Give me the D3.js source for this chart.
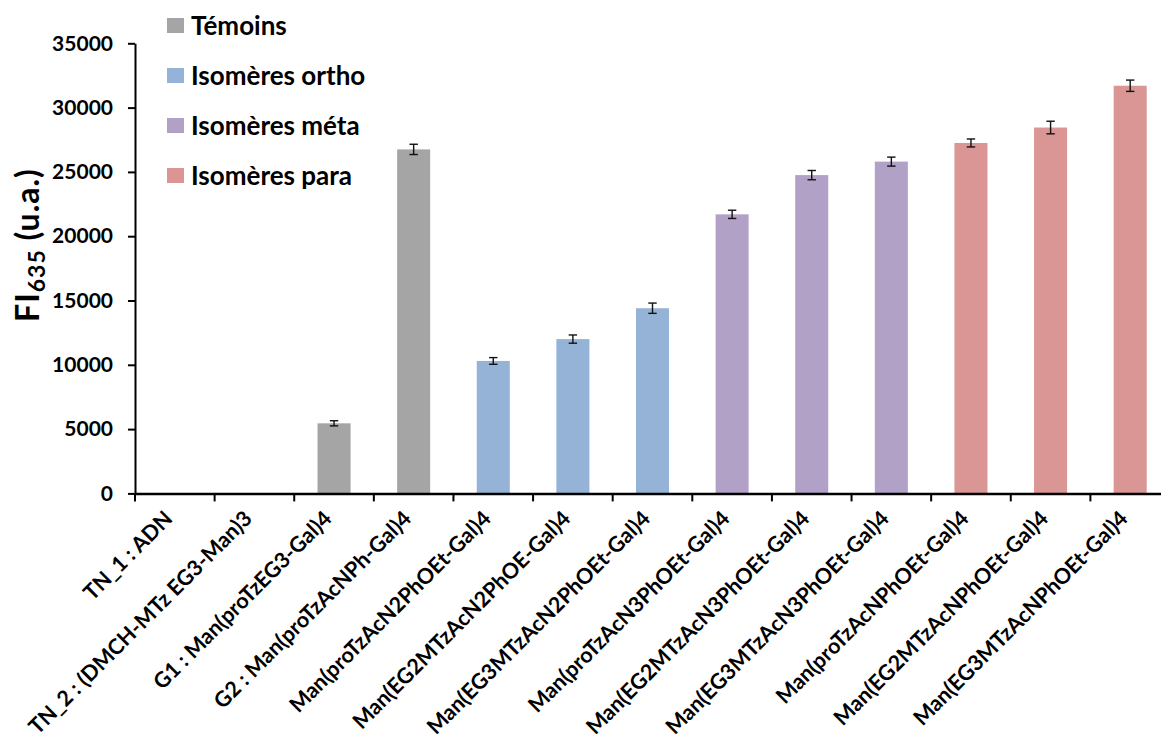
<!DOCTYPE html>
<html><head><meta charset="utf-8">
<script src="https://cdn.jsdelivr.net/npm/d3@7"></script>
<style>body{margin:0;background:#fff;} svg{display:block;}</style>
</head><body>
<svg id="c" width="1161" height="749"></svg>
<script>
const categories = ["TN_1 : ADN","TN_2 : (DMCH-MTz EG3-Man)3","G1 : Man(proTzEG3-Gal)4","G2 : Man(proTzAcNPh-Gal)4",
"Man(proTzAcN2PhOEt-Gal)4","Man(EG2MTzAcN2PhOE-Gal)4","Man(EG3MTzAcN2PhOEt-Gal)4",
"Man(proTzAcN3PhOEt-Gal)4","Man(EG2MTzAcN3PhOEt-Gal)4","Man(EG3MTzAcN3PhOEt-Gal)4",
"Man(proTzAcNPhOEt-Gal)4","Man(EG2MTzAcNPhOEt-Gal)4","Man(EG3MTzAcNPhOEt-Gal)4"];
const values = [0,0,5450,26750,10300,12000,14400,21700,24750,25800,27250,28450,31700];
const errors = [0,0,200,400,260,320,400,320,360,350,310,490,440];
const groups = ["Témoins","Témoins","Témoins","Témoins","Isomères ortho","Isomères ortho","Isomères ortho",
"Isomères méta","Isomères méta","Isomères méta","Isomères para","Isomères para","Isomères para"];
const legendLabels = ["Témoins","Isomères ortho","Isomères méta","Isomères para"];
const legendColors = ["#a5a5a5","#95b3d7","#b2a1c7","#d99694"];
const yTicks = [0,5000,10000,15000,20000,25000,30000,35000];

const svg = d3.select("#c");
const font = "Lato, 'Open Sans', sans-serif";
const x = d3.scaleBand().domain(categories).range([135,1170]).paddingInner(0.585).paddingOuter(0.2925);
const y = d3.scaleLinear().domain([0,35000]).range([493.4,43.3]);
const color = d3.scaleOrdinal().domain(legendLabels).range(legendColors);

// bars
svg.append("g").selectAll("rect").data(categories).join("rect")
  .attr("x", d=>x(d)).attr("width", x.bandwidth())
  .attr("y", (d,i)=>y(values[i])).attr("height",(d,i)=>y(0)-y(values[i]))
  .attr("fill",(d,i)=>color(groups[i]));

// error bars
const eb = svg.append("g").attr("stroke","#111").attr("stroke-width",1.4);
categories.forEach((c,i)=>{
  if(!values[i]) return;
  const cx = x(c)+x.bandwidth()/2;
  eb.append("line").attr("x1",cx).attr("x2",cx).attr("y1",y(values[i]+errors[i])).attr("y2",y(values[i]-errors[i]));
  eb.append("line").attr("x1",cx-4.2).attr("x2",cx+4.2).attr("y1",y(values[i]+errors[i])).attr("y2",y(values[i]+errors[i]));
  eb.append("line").attr("x1",cx-4.2).attr("x2",cx+4.2).attr("y1",y(values[i]-errors[i])).attr("y2",y(values[i]-errors[i]));
});

// y axis
const ya = svg.append("g").attr("transform","translate(135,0)")
  .call(d3.axisLeft(y).tickValues(yTicks).tickSize(7).tickPadding(15).tickSizeOuter(0).tickFormat(d3.format("d")));
ya.select(".domain").attr("stroke","#000").attr("stroke-width",2);
ya.selectAll(".tick line").attr("stroke","#000").attr("stroke-width",2);
ya.selectAll(".tick text").attr("font-family",font).attr("font-weight","bold").attr("font-size",21).attr("fill","#000");

// x axis
const xa = svg.append("g").attr("transform","translate(0,493.4)")
  .call(d3.axisBottom(x).tickSize(0).tickSizeOuter(0).tickFormat(""));
xa.select(".domain").attr("stroke","#000").attr("stroke-width",2.5);
const bounds = categories.map((c,i)=>x.range()[0] + i*x.step());
xa.selectAll("line.sep").data(bounds).join("line").attr("class","sep")
  .attr("x1",d=>d).attr("x2",d=>d).attr("y1",0).attr("y2",8).attr("stroke","#000").attr("stroke-width",2);

// x labels
svg.append("g").selectAll("text").data(categories).join("text")
  .attr("transform",d=>`translate(${x(d)+x.bandwidth()/2-1},${520}) rotate(-45)`)
  .attr("text-anchor","end")
  .attr("font-family",font).attr("font-weight","bold").attr("font-size",21.5).attr("fill","#000")
  .text(d=>d);

// y title
const yt = svg.append("text").attr("transform","translate(39,245) rotate(-90)")
  .attr("text-anchor","middle").attr("font-family",font).attr("font-weight","bold").attr("font-size",32)
  .attr("letter-spacing",1).attr("fill","#000");
yt.append("tspan").text("FI");
yt.append("tspan").attr("font-size",23).attr("dy",6).text("635");
yt.append("tspan").attr("dy",-6).text(" (u.a.)");

// legend
const lg = svg.append("g").selectAll("g").data(legendLabels).join("g")
  .attr("transform",(d,i)=>`translate(167,${26+i*50})`);
lg.append("rect").attr("x",0).attr("y",-8).attr("width",17).attr("height",15).attr("fill",d=>color(d));
lg.append("text").attr("x",24).attr("y",0).attr("dy","0.35em")
  .attr("font-family",font).attr("font-weight","bold").attr("font-size",26).attr("fill","#000").text(d=>d);
</script>
</body></html>
